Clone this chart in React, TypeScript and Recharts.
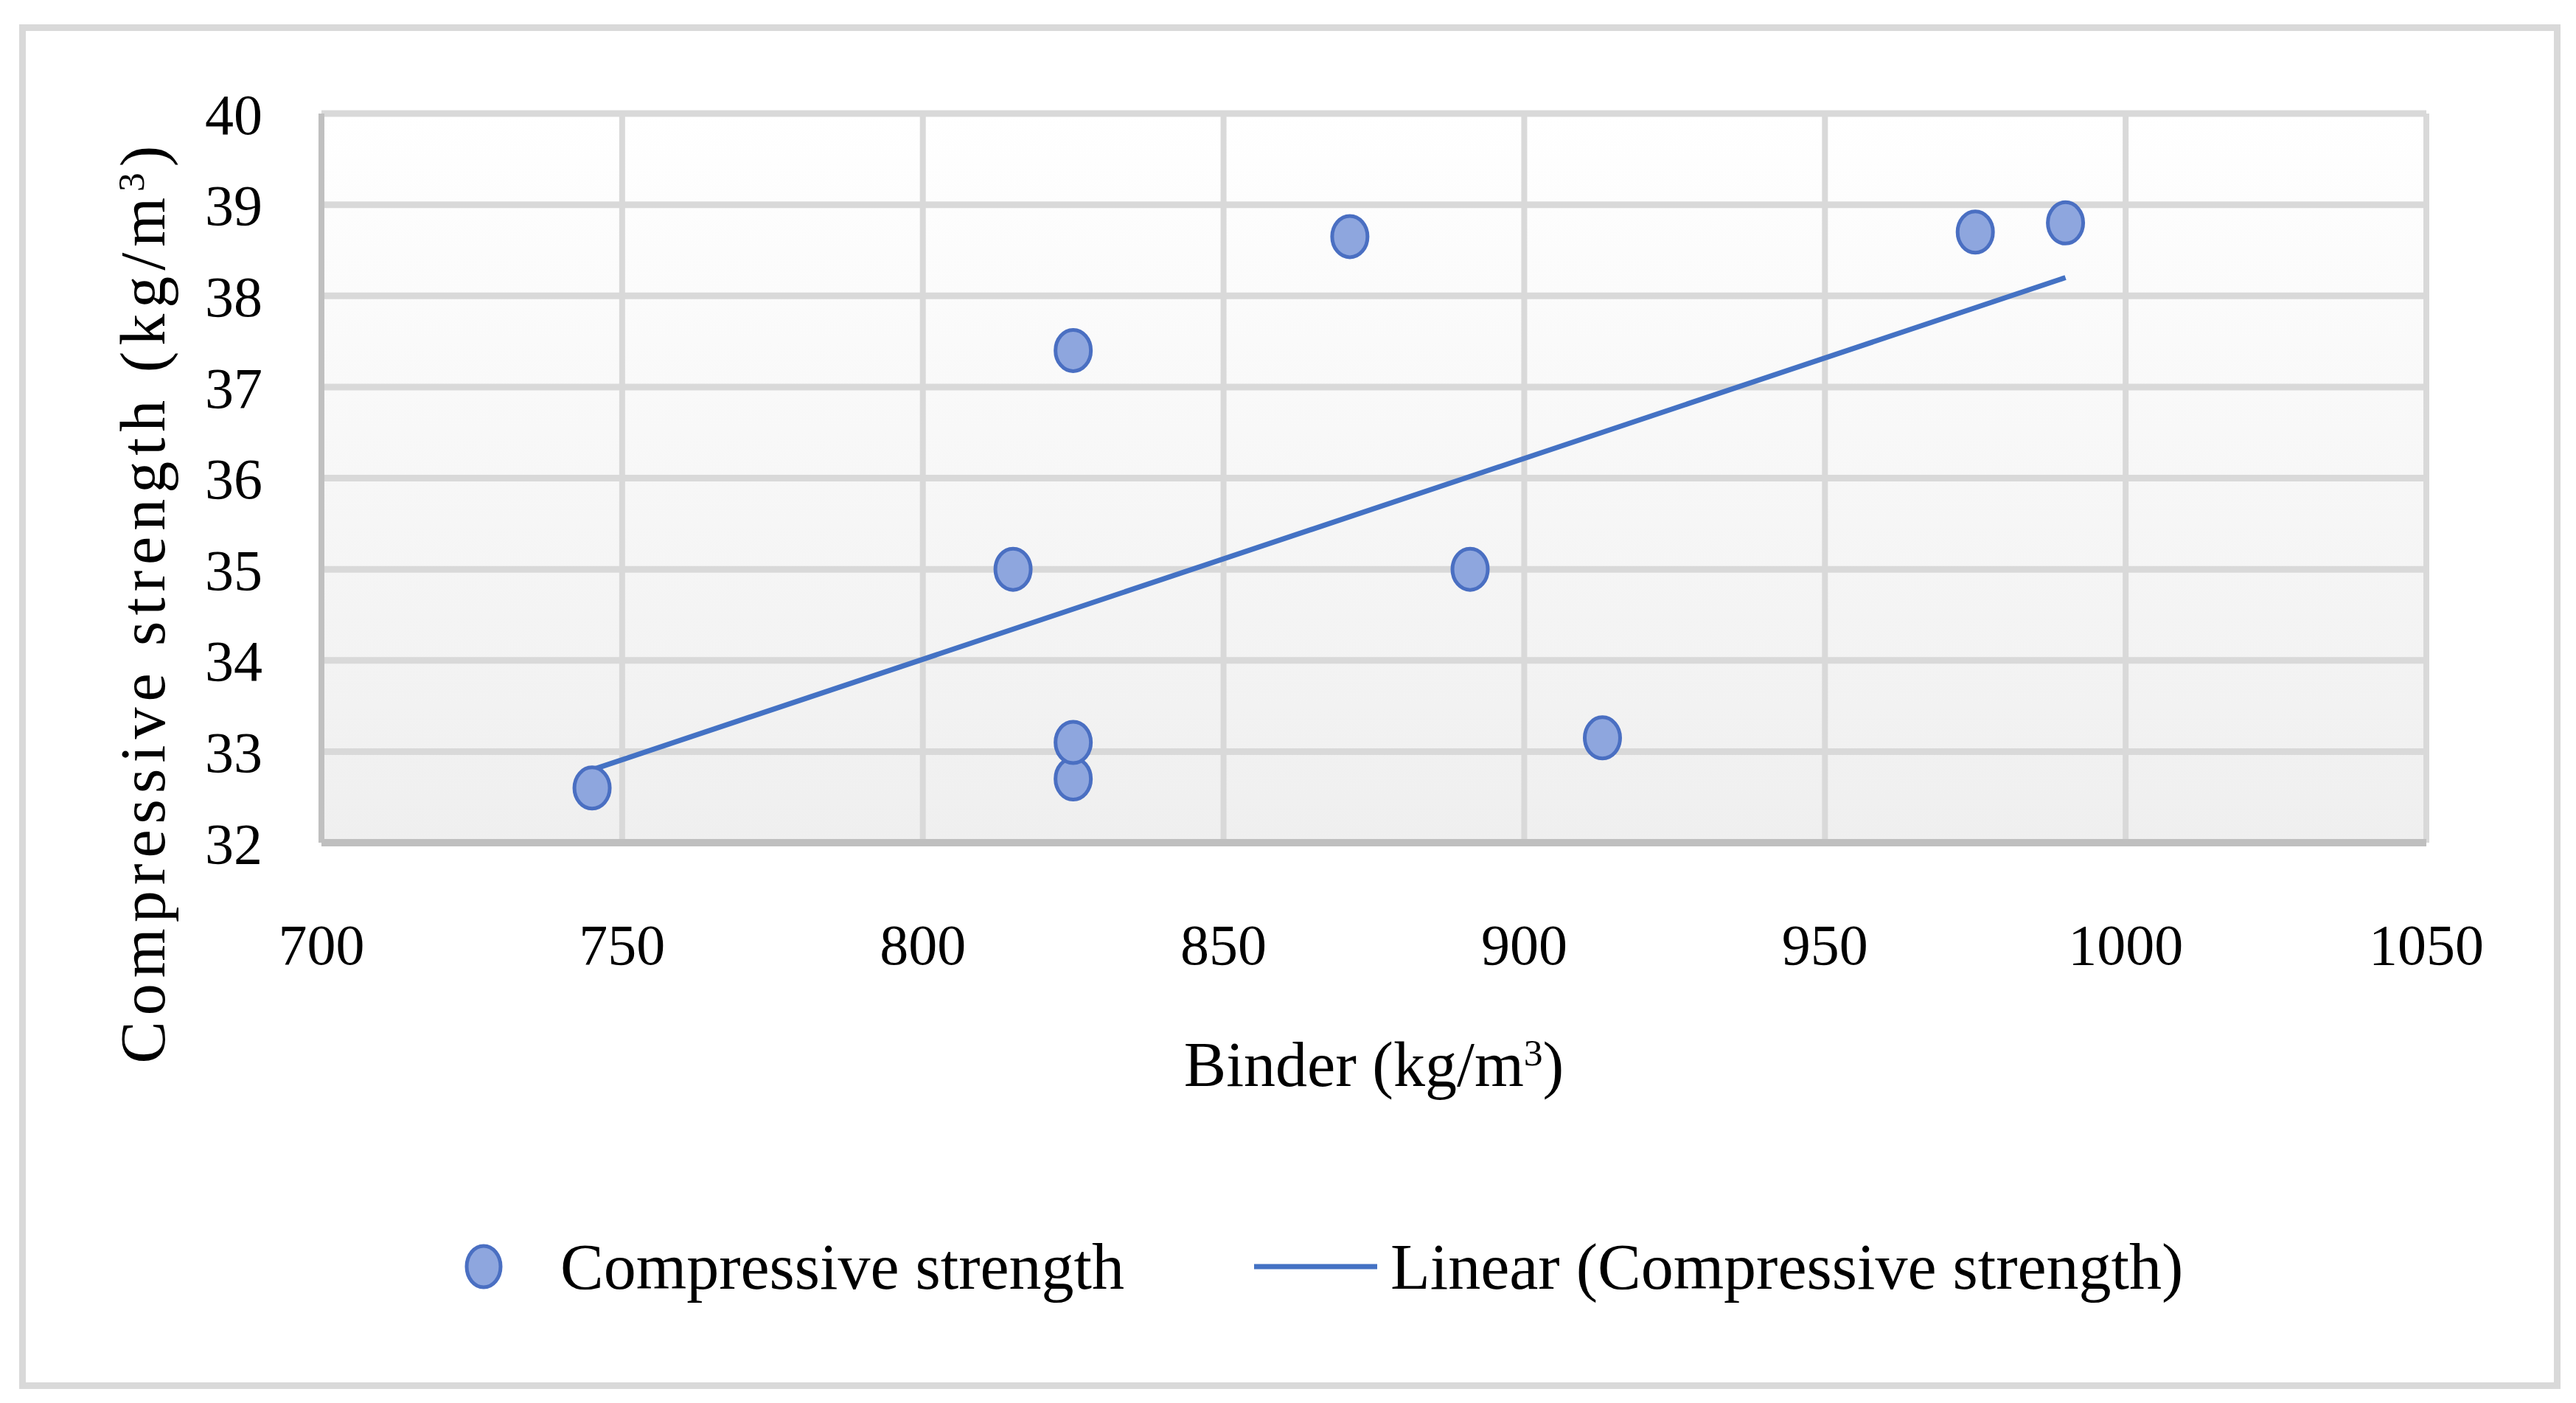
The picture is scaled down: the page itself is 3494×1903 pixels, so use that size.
import { ScatterChart, Scatter, XAxis, YAxis, CartesianGrid, Legend } from "recharts";

// binder content vs 28-day compressive strength
const binder = [745, 825, 825, 825, 815, 871, 891, 913, 975, 990];
const strength = [32.6, 32.7, 33.1, 37.4, 35.0, 38.65, 35.0, 33.15, 38.7, 38.8];

// excel linear trendline, end points
const trendBinder = [745, 990];
const trendStrength = [32.8, 38.2];

const xTicks = [700, 750, 800, 850, 900, 950, 1000, 1050];
const yTicks = [32, 33, 34, 35, 36, 37, 38, 39, 40];

const seriesName = "Compressive strength";
const trendName = "Linear (Compressive strength)";

const FONT = "'Liberation Serif', 'Times New Roman', serif";
const BLUE = "#4472C4";
const DOT_FILL = "#8EA6DE";
const DOT_STROKE = "#4A6FC2";
const GRID = "#d9d9d9";

const points = binder.map((x, i) => ({ x, y: strength[i] }));
const trend = trendBinder.map((x, i) => ({ x, y: trendStrength[i] }));

const Dot = (p: any) => (
  <ellipse cx={p.cx} cy={p.cy} rx={24} ry={28} fill={DOT_FILL} stroke={DOT_STROKE} strokeWidth={5} />
);

const NoShape = () => <g />;

const hLine = (p: any) => (
  <line key={`h${p.y1}`} x1={p.x1} y1={p.y1} x2={p.x2} y2={p.y2} stroke={GRID} strokeWidth={9} />
);
const vLine = (p: any) => (
  <line key={`v${p.x1}`} x1={p.x1} y1={p.y1} x2={p.x2} y2={p.y2} stroke={GRID} strokeWidth={8} />
);

const XTitle = (p: any) => {
  const vb = p.viewBox;
  return (
    <text x={vb.x + vb.width / 2} y={vb.y + 330} textAnchor="middle" fontFamily={FONT} fontSize={86} fill="#000">
      Binder (kg/m<tspan baselineShift="super" fontSize="60%">3</tspan>)
    </text>
  );
};

// the title sits a little below the middle of the plot, as in the figure
const YTitle = () => {
  const cx = 188;
  const cy = 774;
  return (
    <text
      x={cx}
      y={cy}
      transform={`rotate(-90 ${cx} ${cy})`}
      textAnchor="middle"
      fontFamily={FONT}
      fontSize={86}
      letterSpacing={8}
      fill="#000"
    >
      Compressive strength (kg/m<tspan baselineShift="super" fontSize="60%">3</tspan>)
    </text>
  );
};

const LegendContent = () => (
  <div
    style={{
      display: "flex",
      alignItems: "center",
      height: 100,
      paddingLeft: 595,
      fontFamily: FONT,
      fontSize: 88,
      color: "#000",
      whiteSpace: "nowrap",
    }}
  >
    <svg width={52} height={62}>
      <ellipse cx={26} cy={31} rx={23} ry={28} fill={DOT_FILL} stroke={DOT_STROKE} strokeWidth={5} />
    </svg>
    <span style={{ marginLeft: 78 }}>{seriesName}</span>
    <svg width={167} height={12} style={{ marginLeft: 176 }}>
      <line x1={0} y1={6} x2={167} y2={6} stroke={BLUE} strokeWidth={7} />
    </svg>
    <span style={{ marginLeft: 18 }}>{trendName}</span>
  </div>
);

export default function App() {
  return (
    <div style={{ position: "absolute", left: 0, top: 0, width: 3494, height: 1903, background: "#fff" }}>
      <div
        style={{
          position: "absolute",
          left: 26,
          top: 33,
          width: 3447,
          height: 1851,
          border: `9px solid ${GRID}`,
          boxSizing: "border-box",
        }}
      >
        <ScatterChart width={3429} height={1833} margin={{ top: 112, right: 173, bottom: 532, left: 0 }}>
          <defs>
            <linearGradient id="plotBg" x1="0" y1="0" x2="0" y2="1">
              <stop offset="0%" stopColor="#ffffff" />
              <stop offset="100%" stopColor="#efefef" />
            </linearGradient>
          </defs>
          <CartesianGrid fill="url(#plotBg)" fillOpacity={1} horizontal={hLine} vertical={vLine} />
          <XAxis
            type="number"
            dataKey="x"
            domain={[700, 1050]}
            ticks={xTicks}
            interval={0}
            height={200}
            tickLine={false}
            tickSize={0}
            tickMargin={110}
            axisLine={{ stroke: "#bfbfbf", strokeWidth: 10 }}
            tick={{ fontFamily: FONT, fontSize: 78, fill: "#000" }}
            label={<XTitle />}
          />
          <YAxis
            type="number"
            dataKey="y"
            domain={[32, 40]}
            ticks={yTicks}
            interval={0}
            width={401}
            tickLine={false}
            tickSize={0}
            tickMargin={80}
            axisLine={{ stroke: "#c0c0c0", strokeWidth: 8 }}
            tick={{ fontFamily: FONT, fontSize: 78, fill: "#000" }}
            label={<YTitle />}
          />
          <Legend
            layout="horizontal"
            align="center"
            verticalAlign="middle"
            wrapperStyle={{ top: 1626, left: 0, width: 3429 }}
            content={<LegendContent />}
          />
          <Scatter
            name={trendName}
            data={trend}
            line={{ stroke: BLUE, strokeWidth: 7 }}
            shape={NoShape}
            isAnimationActive={false}
          />
          <Scatter name={seriesName} data={points} shape={Dot} isAnimationActive={false} />
        </ScatterChart>
      </div>
    </div>
  );
}
